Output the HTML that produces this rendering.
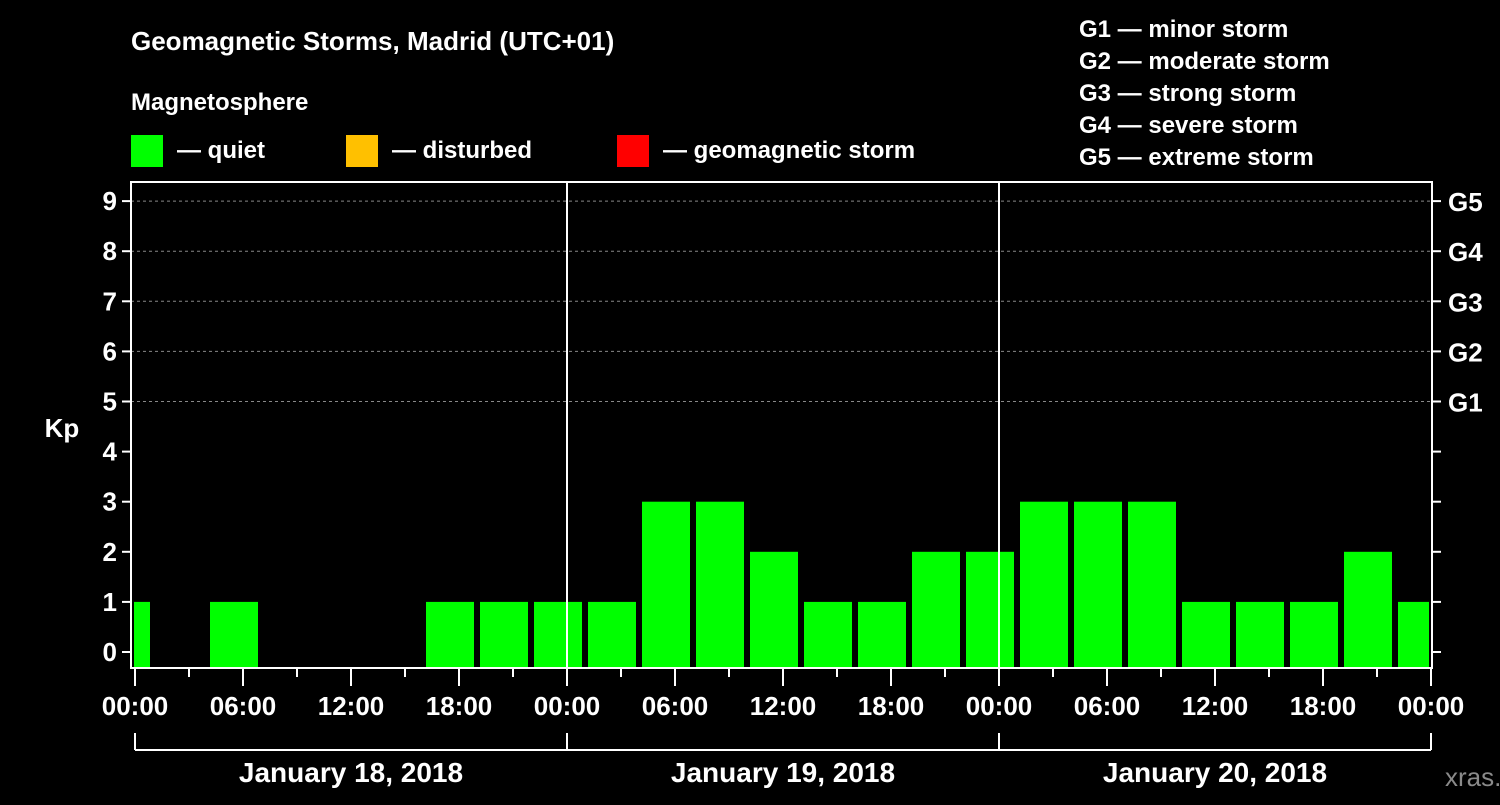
<!DOCTYPE html>
<html><head><meta charset="utf-8"><style>
body{margin:0;background:#000;width:1500px;height:800px;overflow:hidden}
svg text{font-family:"Liberation Sans",sans-serif;font-weight:bold;fill:#fff}
</style></head><body>
<svg id="c" width="1500" height="800">
<text x="131" y="50" font-size="26">Geomagnetic Storms, Madrid (UTC+01)</text>
<text x="131" y="110" font-size="24">Magnetosphere</text>
<rect x="131" y="135" width="32" height="32" fill="#00ff00"/>
<text x="177" y="158" font-size="24">— quiet</text>
<rect x="346" y="135" width="32" height="32" fill="#ffc000"/>
<text x="392" y="158" font-size="24">— disturbed</text>
<rect x="617" y="135" width="32" height="32" fill="#ff0000"/>
<text x="663" y="158" font-size="24">— geomagnetic storm</text>
<g font-size="24">
<text x="1079" y="37">G1 — minor storm</text>
<text x="1079" y="69">G2 — moderate storm</text>
<text x="1079" y="101">G3 — strong storm</text>
<text x="1079" y="133">G4 — severe storm</text>
<text x="1079" y="165">G5 — extreme storm</text>
</g>
<text x="62" y="437" font-size="26" text-anchor="middle">Kp</text>
<text x="1445" y="786" font-size="26" fill="#888" style="fill:#8a8a8a;font-weight:normal">xras.ru</text>
<g id="plot"></g>
</svg>
<script>
const kpValues=[1,0,1,0,0,0,1,1,1,1,3,3,2,1,1,2,2,3,3,3,1,1,1,2,1];
const barCenterHours=[-0.5,2.5,5.5,8.5,11.5,14.5,17.5,20.5,23.5,26.5,29.5,32.5,35.5,38.5,41.5,44.5,47.5,50.5,53.5,56.5,59.5,62.5,65.5,68.5,71.5];
const xTickLabels=["00:00","06:00","12:00","18:00","00:00","06:00","12:00","18:00","00:00","06:00","12:00","18:00","00:00"];
const dayLabels=["January 18, 2018","January 19, 2018","January 20, 2018"];
const gLabels=["G1","G2","G3","G4","G5"];
const NS="http://www.w3.org/2000/svg";
const g=document.getElementById('plot');
const L=131,R=1432,T=182,B=668;
const x=h=>135+h*18.0;
const y=v=>652-v*50.1;
function mk(t,a){const e=document.createElementNS(NS,t);for(const k in a)e.setAttribute(k,a[k]);g.appendChild(e);return e;}
const cp=document.createElementNS(NS,'clipPath');cp.id='clip';
const cr=document.createElementNS(NS,'rect');cr.setAttribute('x',L+3);cr.setAttribute('y',T);cr.setAttribute('width',R-L-6);cr.setAttribute('height',B-T);cp.appendChild(cr);g.appendChild(cp);
for(let v=5;v<=9;v++){
 const l=mk('line',{x1:L,x2:R,y1:y(v),y2:y(v),stroke:'#888','stroke-dasharray':'3,3','stroke-width':1});
 
 
}
const bars=document.createElementNS(NS,'g');bars.setAttribute('clip-path','url(#clip)');g.appendChild(bars);
kpValues.forEach((v,i)=>{
 if(v<=0)return;
 const c=barCenterHours[i];
 const r=document.createElementNS(NS,'rect');
 r.setAttribute('x',x(c)-24);r.setAttribute('width',48);
 r.setAttribute('y',y(v));r.setAttribute('height',B-y(v));
 r.setAttribute('fill','#00ff00');
 
 
 bars.appendChild(r);
});
[24,48].forEach(h=>{const l=mk('line',{x1:x(h),x2:x(h),y1:T,y2:B,stroke:'#fff','stroke-width':2});
 
 });
const fr=mk('rect',{x:L,y:T,width:R-L,height:B-T,fill:'none',stroke:'#fff','stroke-width':2});


for(let v=0;v<=9;v++){
 mk('line',{x1:L-9,x2:L,y1:y(v),y2:y(v),stroke:'#fff','stroke-width':2});
 mk('line',{x1:R,x2:R+9,y1:y(v),y2:y(v),stroke:'#fff','stroke-width':2});
 const t=mk('text',{x:L-14,y:y(v)+9,'font-size':26,'text-anchor':'end'});t.textContent=v;
 
 
}
gLabels.forEach((s,i)=>{const t=mk('text',{x:R+16,y:y(i+5)+10,'font-size':26});t.textContent=s;
 
 });
for(let h=0;h<=72;h+=3){const major=h%6==0;
 mk('line',{x1:x(h),x2:x(h),y1:B,y2:B+(major?18:9),stroke:'#fff','stroke-width':2});}
xTickLabels.forEach((s,i)=>{const t=mk('text',{x:x(i*6),y:715,'font-size':26,'text-anchor':'middle'});t.textContent=s;
 
 });
mk('line',{x1:x(0),x2:x(72),y1:750,y2:750,stroke:'#fff','stroke-width':2});
for(let d=0;d<=3;d++)mk('line',{x1:x(d*24),x2:x(d*24),y1:733,y2:750,stroke:'#fff','stroke-width':2});
dayLabels.forEach((s,i)=>{const t=mk('text',{x:x(i*24+12),y:782,'font-size':28,'text-anchor':'middle'});t.textContent=s;
 
 });
</script>
</body></html>
